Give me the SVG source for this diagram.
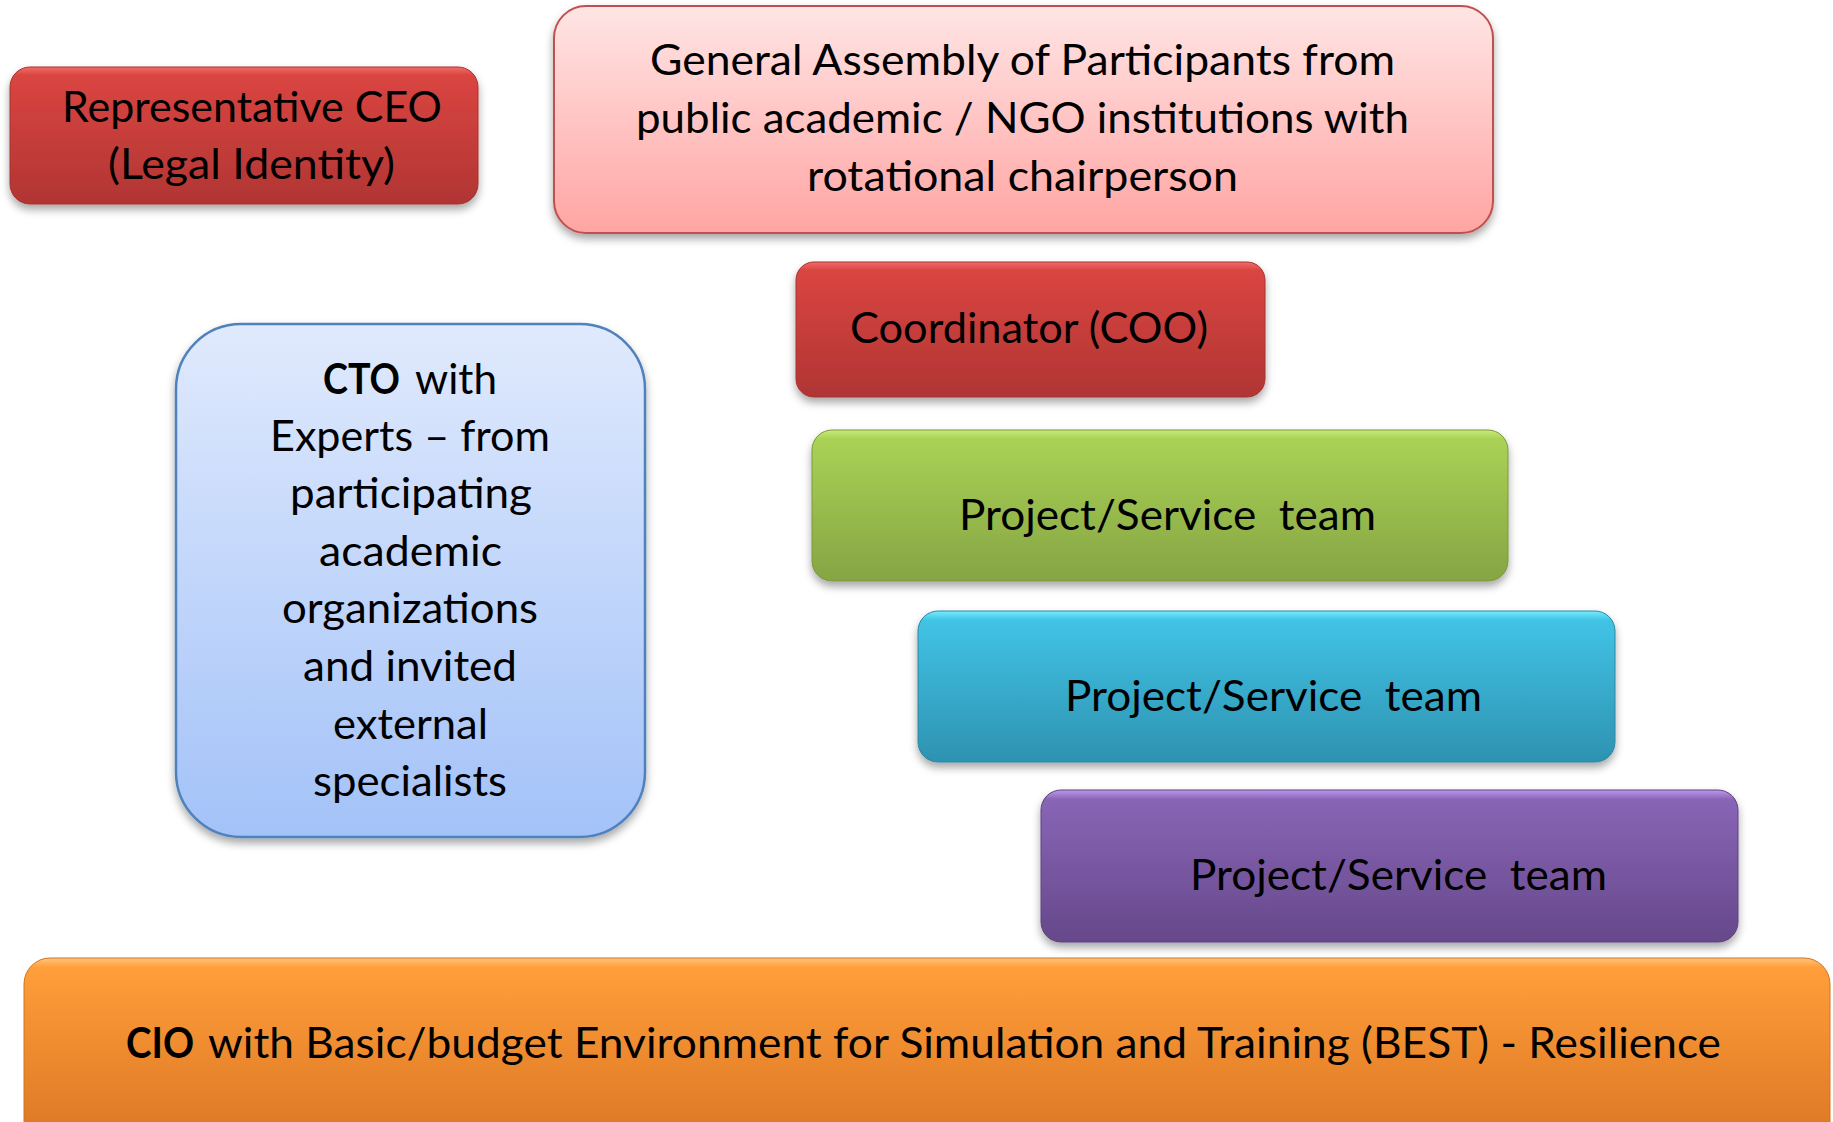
<svg xmlns="http://www.w3.org/2000/svg" width="1833" height="1122" viewBox="0 0 1833 1122">
<defs>
<style>
text{font-family:Lato,"Open Sans","Liberation Sans",sans-serif;font-size:42px;fill:#000;}
.c{text-anchor:middle;}
.b{font-weight:bold;}
</style>
<filter id="sh" x="-5%" y="-10%" width="110%" height="130%">
<feDropShadow dx="0" dy="5" stdDeviation="4" flood-color="#000" flood-opacity="0.35"/>
</filter>
<linearGradient id="gRed" x1="0" y1="0" x2="0" y2="1">
<stop offset="0" stop-color="#ef6e6a"/><stop offset="0.06" stop-color="#da4541"/><stop offset="1" stop-color="#b03533"/>
</linearGradient>
<linearGradient id="gPink" x1="0" y1="0" x2="0" y2="1">
<stop offset="0" stop-color="#ffe5e5"/><stop offset="1" stop-color="#ffa5a3"/>
</linearGradient>
<linearGradient id="gBlue" x1="0" y1="0" x2="0" y2="1">
<stop offset="0" stop-color="#e0eafd"/><stop offset="1" stop-color="#a3c2f8"/>
</linearGradient>
<linearGradient id="gGreen" x1="0" y1="0" x2="0" y2="1">
<stop offset="0" stop-color="#c8ec78"/><stop offset="0.06" stop-color="#a9d255"/><stop offset="1" stop-color="#86a444"/>
</linearGradient>
<linearGradient id="gCyan" x1="0" y1="0" x2="0" y2="1">
<stop offset="0" stop-color="#76ecff"/><stop offset="0.06" stop-color="#41c3e5"/><stop offset="1" stop-color="#2e92b1"/>
</linearGradient>
<linearGradient id="gPurple" x1="0" y1="0" x2="0" y2="1">
<stop offset="0" stop-color="#bf98ec"/><stop offset="0.06" stop-color="#8865b6"/><stop offset="1" stop-color="#66488a"/>
</linearGradient>
<linearGradient id="gOrange" x1="0" y1="0" x2="0" y2="1">
<stop offset="0" stop-color="#ffc47e"/><stop offset="0.05" stop-color="#ff9e3a"/><stop offset="1" stop-color="#da7523"/>
</linearGradient>
</defs>

<g id="connectors"></g>

<g id="ceo">
<rect x="10" y="67" width="468" height="137" rx="20" fill="url(#gRed)" stroke="#a8322f" stroke-width="1" filter="url(#sh)"/>
<text x="62" y="122" textLength="380" lengthAdjust="spacingAndGlyphs">Representative CEO</text>
<text x="108" y="179" textLength="287" lengthAdjust="spacingAndGlyphs">(Legal Identity)</text>
</g>

<g id="general-assembly">
<rect x="554" y="6" width="939" height="227" rx="32" fill="url(#gPink)" stroke="#c0504d" stroke-width="2" filter="url(#sh)"/>
<text x="650" y="75" textLength="745" lengthAdjust="spacingAndGlyphs">General Assembly of Participants from</text>
<text x="636" y="133" textLength="773" lengthAdjust="spacingAndGlyphs">public academic / NGO institutions with</text>
<text x="807" y="191" textLength="431" lengthAdjust="spacingAndGlyphs">rotational chairperson</text>
</g>

<g id="coordinator">
<rect x="796" y="262" width="469" height="135" rx="18" fill="url(#gRed)" stroke="#a8322f" stroke-width="1" filter="url(#sh)"/>
<text x="850" y="343" textLength="358" lengthAdjust="spacingAndGlyphs">Coordinator (COO)</text>
</g>

<g id="cto">
<rect x="176" y="324" width="469" height="513" rx="65" fill="url(#gBlue)" stroke="#4f81bd" stroke-width="2.5" filter="url(#sh)"/>
<text y="394"><tspan class="b" x="323" textLength="77" lengthAdjust="spacingAndGlyphs">CTO</tspan><tspan x="415" textLength="82" lengthAdjust="spacingAndGlyphs">with</tspan></text>
<text x="270" y="451" textLength="280" lengthAdjust="spacingAndGlyphs">Experts – from</text>
<text x="290" y="508" textLength="242" lengthAdjust="spacingAndGlyphs">participating</text>
<text x="319" y="566" textLength="183" lengthAdjust="spacingAndGlyphs">academic</text>
<text x="282" y="623" textLength="256" lengthAdjust="spacingAndGlyphs">organizations</text>
<text x="303" y="681" textLength="214" lengthAdjust="spacingAndGlyphs">and invited</text>
<text x="333" y="739" textLength="155" lengthAdjust="spacingAndGlyphs">external</text>
<text x="313" y="796" textLength="194" lengthAdjust="spacingAndGlyphs">specialists</text>
</g>

<g id="team-green">
<rect x="812" y="430" width="696" height="151" rx="20" fill="url(#gGreen)" stroke="#7a973c" stroke-width="1" filter="url(#sh)"/>
<text x="959" y="530" textLength="417" lengthAdjust="spacingAndGlyphs" xml:space="preserve">Project/Service  team</text>
</g>

<g id="team-cyan">
<rect x="918" y="611" width="697" height="151" rx="20" fill="url(#gCyan)" stroke="#2a87a3" stroke-width="1" filter="url(#sh)"/>
<text x="1065" y="711" textLength="417" lengthAdjust="spacingAndGlyphs" xml:space="preserve">Project/Service  team</text>
</g>

<g id="team-purple">
<rect x="1041" y="790" width="697" height="152" rx="20" fill="url(#gPurple)" stroke="#5e4381" stroke-width="1" filter="url(#sh)"/>
<text x="1190" y="890" textLength="417" lengthAdjust="spacingAndGlyphs" xml:space="preserve">Project/Service  team</text>
</g>

<g id="cio">
<rect x="24" y="958" width="1806" height="190" rx="26" fill="url(#gOrange)" stroke="#d2741f" stroke-width="1"/>
<text y="1058"><tspan class="b" x="126" textLength="68" lengthAdjust="spacingAndGlyphs">CIO</tspan><tspan x="208" textLength="1513" lengthAdjust="spacingAndGlyphs">with Basic/budget Environment for Simulation and Training (BEST) - Resilience</tspan></text>
</g>
</svg>
